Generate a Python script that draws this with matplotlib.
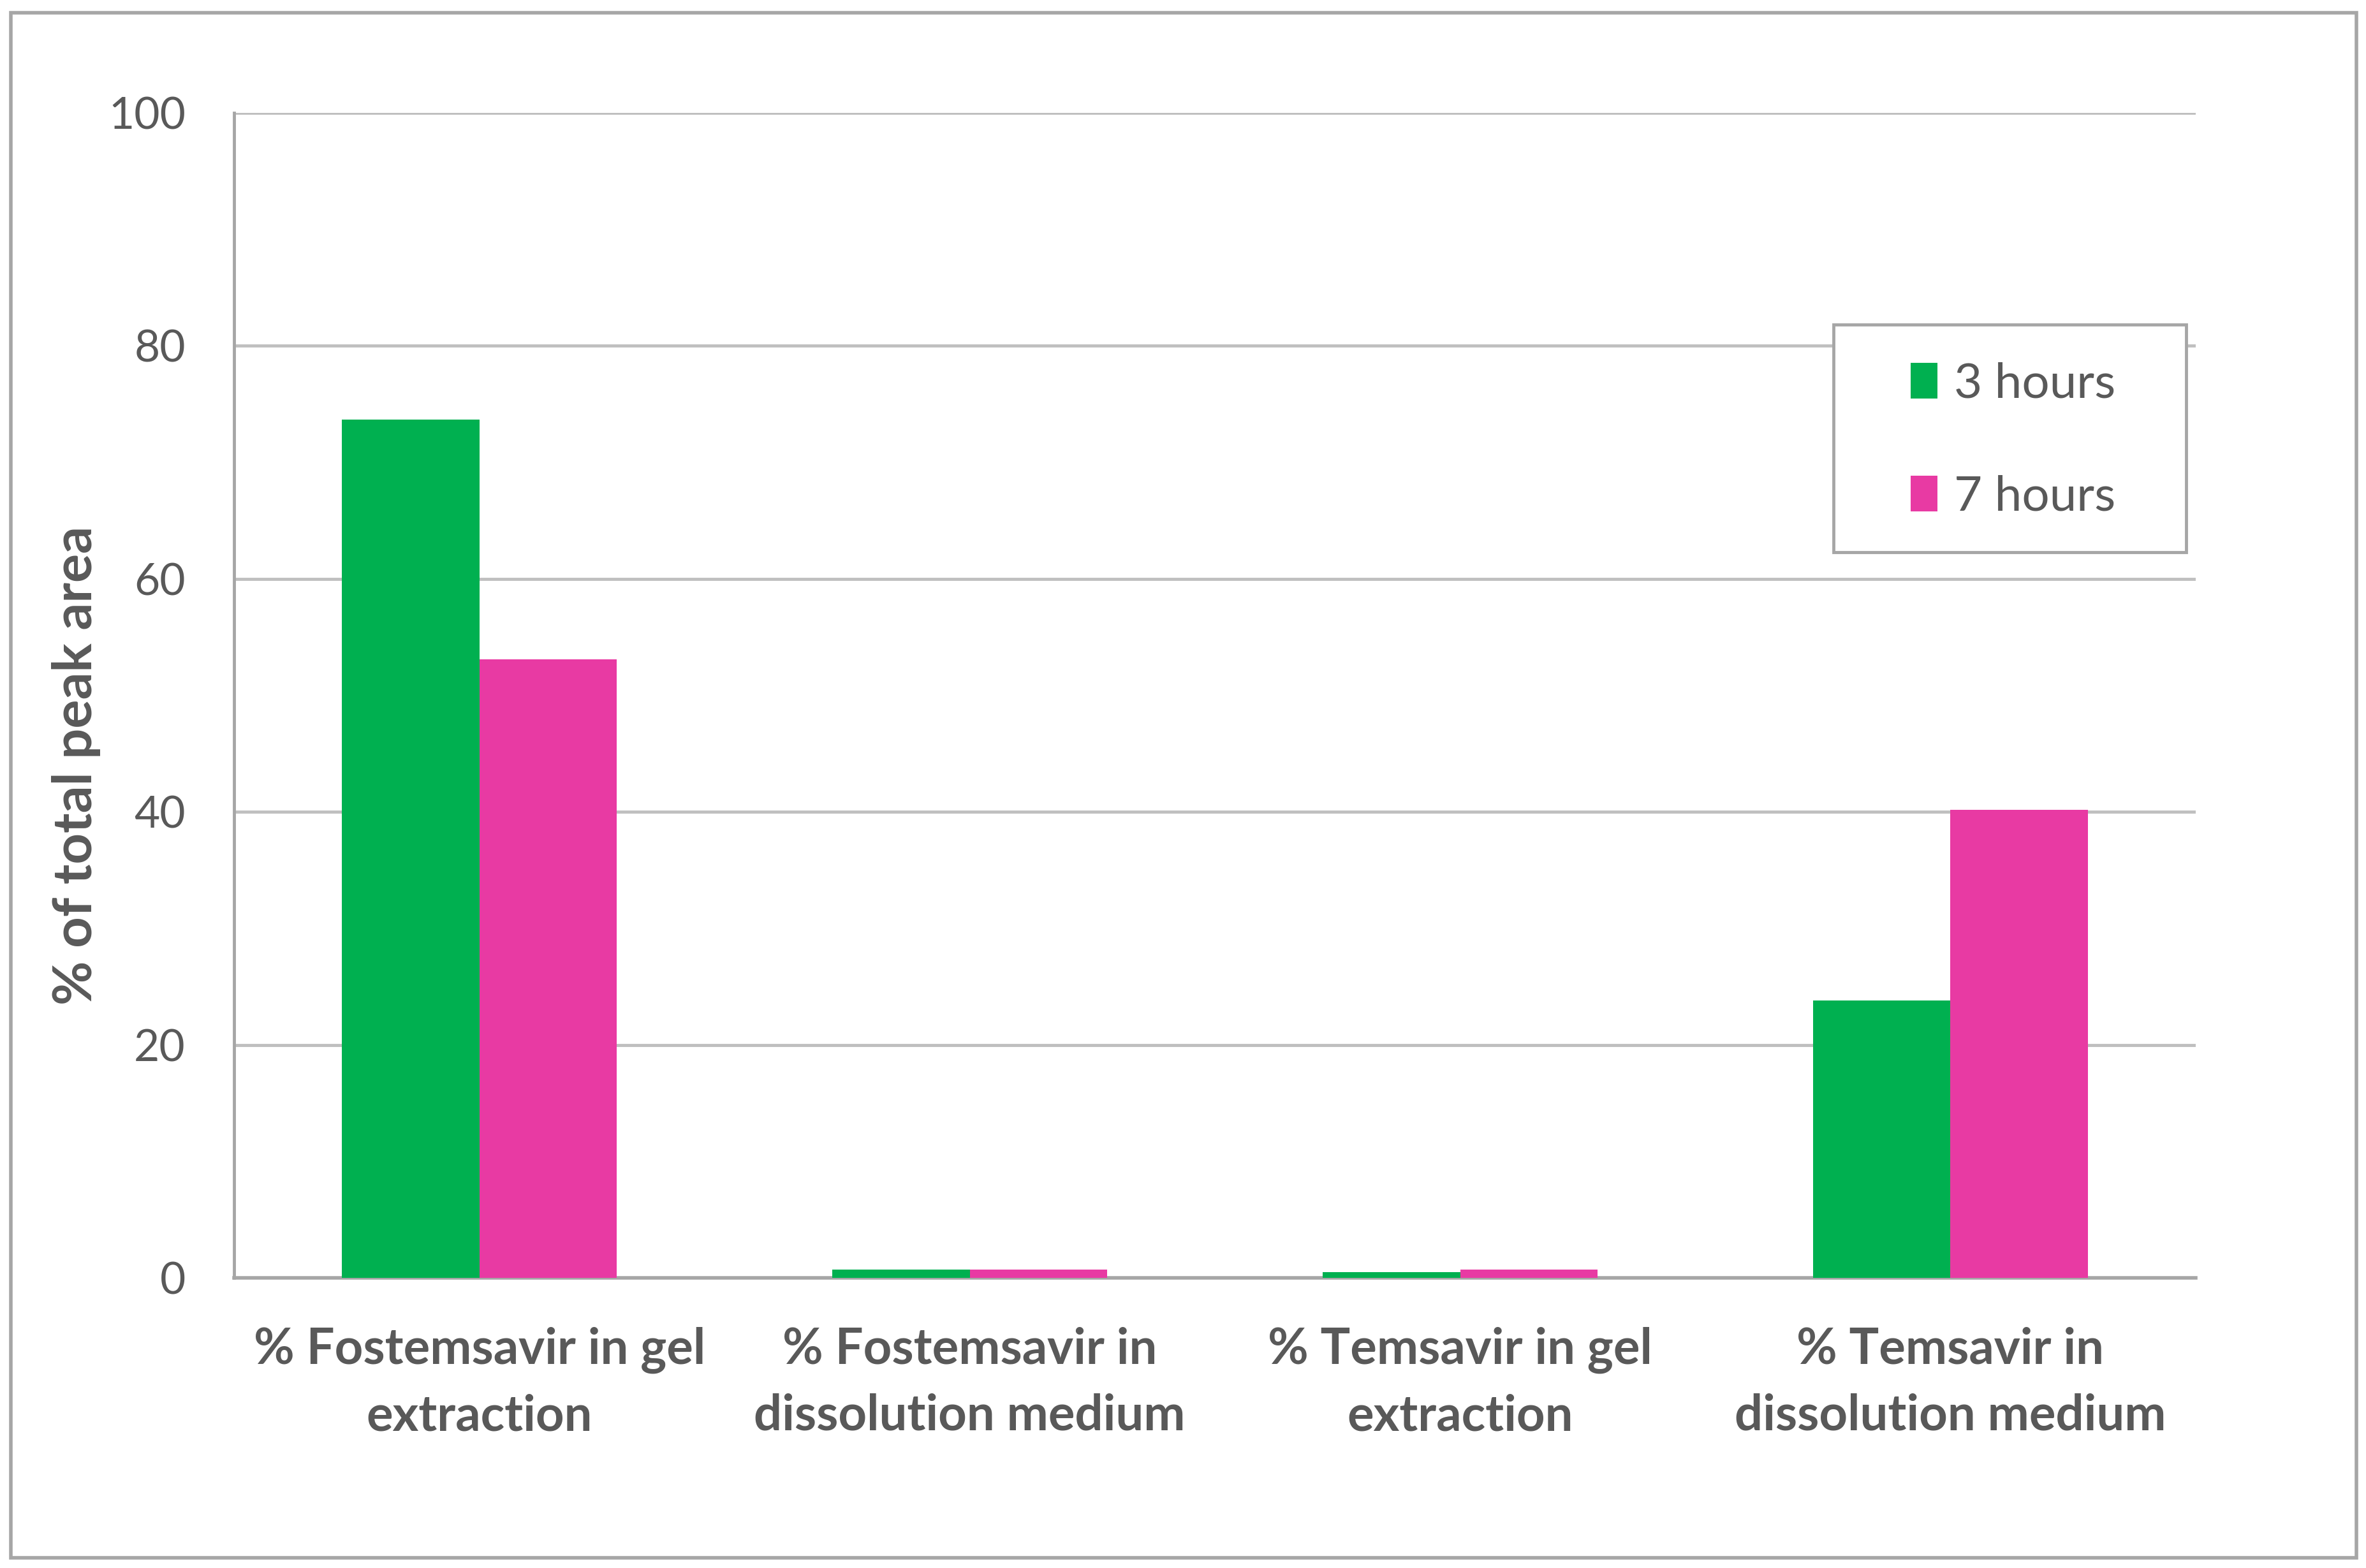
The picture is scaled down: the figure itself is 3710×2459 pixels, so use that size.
import numpy as np
import matplotlib.pyplot as plt
from matplotlib.patches import Rectangle

# datos
categories = ['% Fostemsavir in gel\nextraction',
              '% Fostemsavir in\ndissolution medium',
              '% Temsavir in gel\nextraction',
              '% Temsavir in\ndissolution medium']
hours_3 = [73.7, 0.7, 0.5, 23.8]
hours_7 = [53.1, 0.7, 0.7, 40.2]
series_labels = ['3 hours', '7 hours']
yticks = [0, 20, 40, 60, 80, 100]

green = '#00B050'
pink = '#E83AA3'
grid_col = '#BFBFBF'
text_col = '#595959'

plt.rcParams['font.family'] = ['Lato', 'DejaVu Sans']

fig = plt.figure(figsize=[37.10, 24.59], dpi=100)
ax = fig.add_axes([0.099, 0.185, 0.829, 0.743])

x = np.arange(len(categories))
w = 0.28
ax.bar(x - w/2, hours_3, w, color=green, label=series_labels[0], zorder=3)
ax.bar(x + w/2, hours_7, w, color=pink, label=series_labels[1], zorder=3)

ax.set_xlim(-0.5, len(categories) - 0.5)
ax.set_ylim(0, 100)
ax.set_yticks(yticks)
ax.yaxis.grid(True, color=grid_col, linewidth=3.5, zorder=0)
ax.set_axisbelow(True)

for s in ['top', 'right']:
    ax.spines[s].set_visible(False)
ax.spines['left'].set_color('#A6A6A6')
ax.spines['left'].set_linewidth(3.5)
ax.spines['bottom'].set_color('#A6A6A6')
ax.spines['bottom'].set_linewidth(4)

ax.set_xticks(x)
ax.set_xticklabels(categories, fontsize=56, fontweight='bold', color=text_col,
                   linespacing=1.55)
ax.tick_params(axis='x', length=0, pad=55)
ax.tick_params(axis='y', length=0, pad=55, labelsize=50, labelcolor=text_col)

ax.set_ylabel('% of total peak area', fontsize=61, fontweight='bold', color=text_col)
ax.yaxis.set_label_coords(-0.068, 0.44)

# recuadro de la leyenda
ax.add_patch(Rectangle((0.8153, 0.6229), 0.1798, 0.1954, transform=ax.transAxes,
                       facecolor='white', edgecolor='#A6A6A6', linewidth=3.5,
                       zorder=4, clip_on=False))
leg = ax.legend(loc='center', bbox_to_anchor=(0.907, 0.719), fontsize=55,
                frameon=False, handlelength=0.55, handleheight=0.75,
                handletextpad=0.34, labelspacing=1.42, borderpad=0,
                borderaxespad=0)
leg.set_zorder(5)
for t in leg.get_texts():
    t.set_color(text_col)

# borde exterior de la figura
fig.patches.append(Rectangle((0.0045, 0.0067), 0.9915, 0.9853, transform=fig.transFigure,
                             fill=False, edgecolor='#A6A6A6', linewidth=4))

plt.savefig('out.png', dpi=100)
